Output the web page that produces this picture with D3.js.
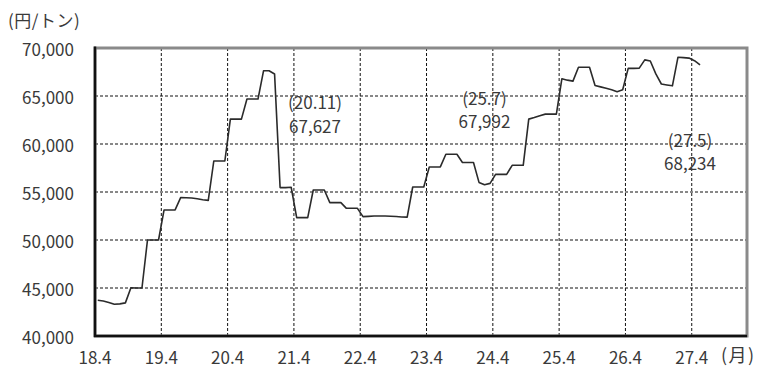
<!DOCTYPE html>
<html lang="ja">
<head>
<meta charset="utf-8">
<script src="https://cdn.jsdelivr.net/npm/d3@7"></script>
<style>
  html, body { margin: 0; padding: 0; background: #fff; }
  svg { display: block; }
  text { font-family: "Noto Sans CJK JP", "Noto Sans", sans-serif; fill: #3a3a3a; }
</style>
</head>
<body>
<svg id="chart" width="759" height="374"></svg>
<script>
// Monthly price (円/トン), from H18.4 through H27.5
const prices = [
  // H18.4 – H19.3
  43720, 43650, 43500, 43300, 43350, 43450, 45020, 45000, 45000, 50000, 50000, 50000,
  // H19.4 – H20.3
  53130, 53130, 53130, 54410, 54400, 54380, 54300, 54200, 54130, 58230, 58230, 58230,
  // H20.4 – H21.3
  62590, 62590, 62590, 64680, 64680, 64680, 67627, 67627, 67290, 55460, 55460, 55500,
  // H21.4 – H22.3
  52330, 52330, 52330, 55210, 55210, 55210, 53890, 53890, 53890, 53300, 53300, 53300,
  // H22.4 – H23.3
  52430, 52460, 52500, 52500, 52500, 52480, 52450, 52400, 52380, 55520, 55520, 55520,
  // H23.4 – H24.3
  57610, 57610, 57610, 58930, 58930, 58930, 58070, 58070, 58070, 56000, 55750, 55900,
  // H24.4 – H25.3
  56840, 56840, 56840, 57780, 57780, 57780, 62590, 62750, 62950, 63110, 63110, 63110,
  // H25.4 – H26.3
  66800, 66650, 66550, 67992, 67992, 67992, 66100, 65950, 65800, 65650, 65450, 65650,
  // H26.4 – H27.3
  67880, 67880, 67900, 68760, 68650, 67300, 66250, 66150, 66060, 69030, 69000, 68950,
  // H27.4 – H27.5
  68680, 68234
];

// Month categories ("18.4", "18.5", ...) matching the price list
const months = [];
for (let i = 0; i < prices.length; i++) {
  const yr = 18 + Math.floor((i + 3) / 12);
  const mo = ((i + 3) % 12) + 1;
  months.push(yr + "." + mo);
}

// Axis slots run through H28.1 so the plot has room past the last point
const slotCount = 118;

const xTickLabels = ["18.4", "19.4", "20.4", "21.4", "22.4", "23.4", "24.4", "25.4", "26.4", "27.4"];
const yTickValues = [40000, 45000, 50000, 55000, 60000, 65000, 70000];

// Highlighted months with their stated prices
const callouts = [
  { month: "20.11", value: 67627 },
  { month: "25.7",  value: 67992 },
  { month: "27.5",  value: 68234 }
];

const yUnit = "(円/トン)";
const xUnit = "(月)";

const svg = d3.select("#chart");
const plotLeft = 95, plotRight = 747, plotTop = 48, plotBottom = 336;

const x = d3.scaleLinear().domain([0, slotCount]).range([plotLeft, plotRight]);
const y = d3.scaleLinear().domain([40000, 70000]).range([plotBottom, plotTop]);

const fmt = d3.format(",");

// Dashed gridlines
const grid = svg.append("g");
grid.selectAll("line.hgrid")
  .data(yTickValues.slice(1, -1))
  .join("line")
  .attr("class", "hgrid")
  .attr("x1", plotLeft).attr("x2", plotRight)
  .attr("y1", d => y(d)).attr("y2", d => y(d))
  .attr("stroke", "#111").attr("stroke-width", 1)
  .attr("stroke-dasharray", "3,2");

grid.selectAll("line.vgrid")
  .data(xTickLabels.slice(1))
  .join("line")
  .attr("class", "vgrid")
  .attr("x1", d => x(months.indexOf(d))).attr("x2", d => x(months.indexOf(d)))
  .attr("y1", plotTop).attr("y2", plotBottom)
  .attr("stroke", "#111").attr("stroke-width", 1)
  .attr("stroke-dasharray", "3,2");

// Plot-area frame (grey) with black axis lines at left and bottom
svg.append("rect")
  .attr("x", plotLeft).attr("y", plotTop)
  .attr("width", plotRight - plotLeft).attr("height", plotBottom - plotTop)
  .attr("fill", "none").attr("stroke", "#8a8a8a").attr("stroke-width", 3);

svg.append("line")
  .attr("x1", plotLeft).attr("x2", plotLeft).attr("y1", plotTop - 1.5).attr("y2", plotBottom + 1)
  .attr("stroke", "#111").attr("stroke-width", 2.5);
svg.append("line")
  .attr("x1", plotLeft - 1).attr("x2", plotRight).attr("y1", plotBottom).attr("y2", plotBottom)
  .attr("stroke", "#111").attr("stroke-width", 2.5);

// Price line, each point centred in its month slot
const line = d3.line()
  .x((d, i) => x(i + 0.5))
  .y(d => y(d));

svg.append("path")
  .datum(prices)
  .attr("fill", "none")
  .attr("stroke", "#2b2b2b")
  .attr("stroke-width", 1.6)
  .attr("stroke-linejoin", "round")
  .attr("d", line);

// Y axis labels
svg.append("g").selectAll("text")
  .data(yTickValues)
  .join("text")
  .attr("x", 74).attr("y", d => y(d))
  .attr("text-anchor", "end")
  .attr("dominant-baseline", "central")
  .attr("font-size", 17)
  .text(d => fmt(d));

// X axis labels
svg.append("g").selectAll("text")
  .data(xTickLabels)
  .join("text")
  .attr("x", d => x(months.indexOf(d)))
  .attr("y", 356)
  .attr("text-anchor", "middle")
  .attr("dominant-baseline", "central")
  .attr("font-size", 17)
  .text(d => d);

// Unit labels
svg.append("text")
  .attr("x", 8).attr("y", 19)
  .attr("dominant-baseline", "central")
  .attr("font-size", 17)
  .attr("letter-spacing", 0.5)
  .text(yUnit);

svg.append("text")
  .attr("x", 721).attr("y", 354)
  .attr("dominant-baseline", "central")
  .attr("font-size", 18)
  .attr("letter-spacing", 1.5)
  .text(xUnit);

// Callouts: month in brackets over the price, offset from the marked point
const calloutOffsets = [
  { dx: 46, dy1: 31, dy2: 55 },
  { dx: -94, dy1: 30, dy2: 53 },
  { dx: -10, dy1: 75, dy2: 98 }
];

callouts.forEach((c, k) => {
  const i = months.indexOf(c.month);
  const px = x(i + 0.5), py = y(c.value);
  const o = calloutOffsets[k];
  const t = svg.append("g").attr("font-size", 17);
  t.append("text")
    .attr("x", px + o.dx).attr("y", py + o.dy1)
    .attr("text-anchor", "middle").attr("dominant-baseline", "central")
    .text("(" + c.month + ")");
  t.append("text")
    .attr("x", px + o.dx).attr("y", py + o.dy2)
    .attr("text-anchor", "middle").attr("dominant-baseline", "central")
    .text(fmt(c.value));
});
</script>
</body>
</html>
